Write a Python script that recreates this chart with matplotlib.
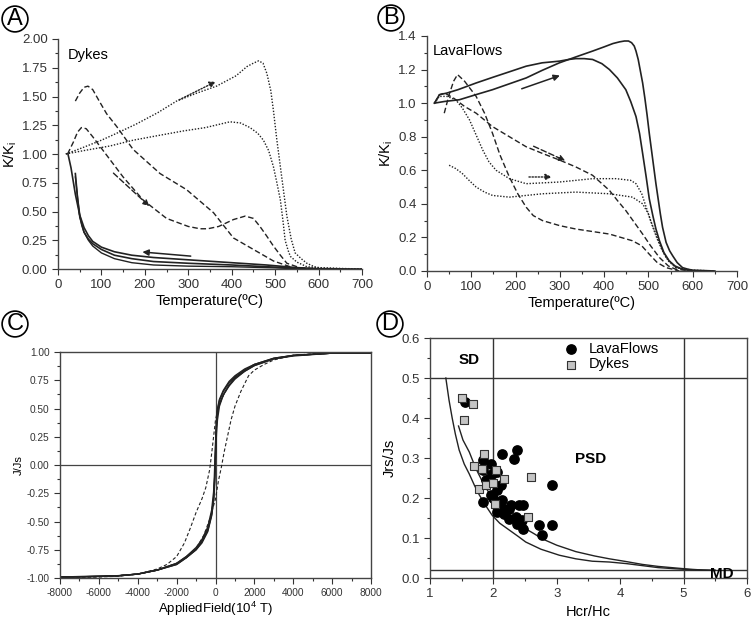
import numpy as np
import matplotlib
matplotlib.use("Agg")
import matplotlib.pyplot as plt
from matplotlib.ticker import MultipleLocator, FormatStrFormatter

plt.rcParams['font.family'] = ['Liberation Sans', 'DejaVu Sans']
plt.rcParams['mathtext.default'] = 'regular'
plt.rcParams['axes.unicode_minus'] = False

# ---------------- Panel A: Dykes, K/Ki vs temperature ----------------
a_dot1_T = [18, 60, 100, 135, 180, 230, 273, 320, 365, 410, 435, 450, 462, 472, 481, 490, 496, 504, 512, 520, 527, 537, 546, 560, 573, 590, 604, 650, 700]
a_dot1_y = [1.00, 1.06, 1.12, 1.18, 1.26, 1.36, 1.46, 1.53, 1.59, 1.68, 1.76, 1.79, 1.81, 1.79, 1.70, 1.55, 1.38, 1.12, 0.89, 0.66, 0.46, 0.26, 0.14, 0.09, 0.05, 0.02, 0.01, 0.005, 0.0]
a_dot2_T = [18, 60, 120, 173, 230, 288, 340, 396, 420, 442, 460, 473, 485, 496, 504, 512, 518, 523, 530, 535, 550, 573, 600, 650, 700]
a_dot2_y = [1.00, 1.03, 1.07, 1.12, 1.16, 1.20, 1.23, 1.28, 1.27, 1.23, 1.18, 1.12, 1.03, 0.89, 0.75, 0.60, 0.42, 0.25, 0.16, 0.11, 0.06, 0.02, 0.01, 0.003, 0.0]
a_dash1_T = [40, 50, 60, 69, 80, 95, 112, 135, 173, 235, 296, 358, 404, 450, 496, 542, 600]
a_dash1_y = [1.46, 1.53, 1.58, 1.59, 1.56, 1.46, 1.35, 1.24, 1.04, 0.83, 0.69, 0.49, 0.27, 0.17, 0.07, 0.01, 0.0]
a_dash2_T = [22, 35, 45, 54, 65, 80, 96, 120, 150, 196, 250, 300, 327, 345, 370, 404, 431, 450, 465, 480, 496, 512, 527, 558, 600]
a_dash2_y = [1.00, 1.10, 1.19, 1.23, 1.22, 1.15, 1.07, 0.95, 0.80, 0.60, 0.44, 0.37, 0.35, 0.35, 0.37, 0.43, 0.46, 0.44, 0.37, 0.29, 0.20, 0.12, 0.05, 0.01, 0.0]
a_sol1_T = [23, 30, 40, 50, 60, 70, 80, 100, 130, 170, 220, 300, 400, 480, 550, 600, 700]
a_sol1_y = [1.00, 0.88, 0.65, 0.47, 0.36, 0.29, 0.24, 0.19, 0.15, 0.12, 0.10, 0.08, 0.055, 0.035, 0.012, 0.003, 0.0]
a_sol2_T = [40, 45, 50, 55, 60, 70, 80, 100, 130, 170, 220, 300, 400, 480, 560]
a_sol2_y = [0.83, 0.62, 0.47, 0.38, 0.32, 0.26, 0.22, 0.17, 0.12, 0.09, 0.065, 0.05, 0.035, 0.02, 0.005]
a_sol3_T = [40, 50, 60, 70, 80, 100, 130, 170, 220, 300, 400, 500, 560]
a_sol3_y = [0.80, 0.45, 0.32, 0.25, 0.20, 0.14, 0.09, 0.055, 0.035, 0.025, 0.02, 0.01, 0.0]

# ---------------- Panel B: LavaFlows ----------------
b_sol1_T = [17, 40, 73, 110, 148, 186, 224, 260, 299, 336, 374, 400, 420, 435, 446, 455, 462, 468, 472, 477, 482, 487, 492, 497, 502, 507, 512, 517, 522, 527, 532, 540, 548, 555, 565, 577, 590, 600, 650]
b_sol1_y = [1.00, 1.01, 1.02, 1.05, 1.08, 1.115, 1.15, 1.195, 1.24, 1.275, 1.31, 1.335, 1.355, 1.365, 1.37, 1.37, 1.36, 1.34, 1.31, 1.26, 1.19, 1.12, 1.03, 0.93, 0.82, 0.72, 0.62, 0.52, 0.43, 0.34, 0.26, 0.17, 0.12, 0.09, 0.05, 0.02, 0.01, 0.005, 0.0]
b_sol2_T = [17, 28, 45, 70, 111, 150, 190, 224, 260, 299, 320, 336, 355, 374, 395, 412, 430, 449, 460, 472, 480, 487, 495, 502, 510, 517, 525, 535, 547, 560, 577, 600]
b_sol2_y = [1.00, 1.05, 1.06, 1.08, 1.12, 1.155, 1.19, 1.22, 1.24, 1.25, 1.26, 1.265, 1.265, 1.26, 1.235, 1.20, 1.15, 1.08, 1.01, 0.92, 0.82, 0.70, 0.56, 0.43, 0.33, 0.25, 0.18, 0.11, 0.06, 0.03, 0.01, 0.0]
b_dash1_T = [39, 50, 60, 69, 85, 111, 130, 148, 165, 186, 205, 224, 240, 261, 300, 336, 412, 464, 485, 502, 520, 540, 570]
b_dash1_y = [0.94, 1.05, 1.13, 1.17, 1.13, 1.04, 0.94, 0.82, 0.69, 0.56, 0.46, 0.38, 0.33, 0.30, 0.27, 0.25, 0.22, 0.18, 0.15, 0.10, 0.05, 0.02, 0.0]
b_dash2_T = [17, 28, 40, 60, 85, 111, 148, 186, 224, 261, 300, 336, 374, 412, 430, 449, 468, 487, 505, 525, 545, 562, 600]
b_dash2_y = [1.00, 1.05, 1.06, 1.03, 0.98, 0.94, 0.86, 0.80, 0.74, 0.70, 0.66, 0.62, 0.57, 0.48, 0.42, 0.36, 0.29, 0.22, 0.15, 0.08, 0.03, 0.01, 0.0]
b_dot1_T = [17, 28, 45, 65, 80, 96, 111, 126, 140, 156, 186, 224, 299, 374, 427, 460, 472, 485, 495, 505, 517, 530, 540, 562, 600, 650]
b_dot1_y = [1.00, 1.04, 1.04, 1.02, 0.97, 0.90, 0.81, 0.72, 0.65, 0.60, 0.55, 0.52, 0.53, 0.55, 0.55, 0.54, 0.52, 0.46, 0.38, 0.30, 0.22, 0.13, 0.08, 0.02, 0.005, 0.0]
b_dot2_T = [50, 65, 80, 95, 111, 130, 148, 186, 261, 336, 412, 464, 487, 500, 510, 520, 532, 545, 562, 600]
b_dot2_y = [0.63, 0.61, 0.58, 0.54, 0.50, 0.47, 0.45, 0.44, 0.46, 0.47, 0.46, 0.44, 0.40, 0.34, 0.26, 0.19, 0.12, 0.06, 0.02, 0.0]

# ---------------- Panel C: hysteresis loops ----------------
c_sol1_down_H = [8000, 6000, 4000, 3000, 2000, 1500, 1000, 700, 400, 200, 100, 50, 20, 0, -20, -50, -100, -200, -400, -700, -1000, -1500, -2000, -3000, -4000, -5000, -6000, -7000, -8000]
c_sol1_down_J = [0.995, 0.99, 0.97, 0.945, 0.89, 0.85, 0.79, 0.74, 0.66, 0.58, 0.50, 0.40, 0.25, 0.12, 0.0, -0.15, -0.30, -0.44, -0.58, -0.68, -0.75, -0.82, -0.88, -0.93, -0.965, -0.98, -0.985, -0.99, -0.995]
c_sol1_up_H = [-8000, -7000, -6000, -5000, -4000, -3000, -2000, -1500, -1000, -700, -400, -200, -100, -50, -20, 0, 20, 50, 100, 200, 400, 700, 1000, 1500, 2000, 3000, 4000, 6000, 8000]
c_sol1_up_J = [-0.995, -0.99, -0.985, -0.98, -0.965, -0.93, -0.88, -0.82, -0.75, -0.69, -0.59, -0.45, -0.32, -0.18, -0.05, 0.10, 0.24, 0.38, 0.48, 0.57, 0.65, 0.73, 0.78, 0.84, 0.89, 0.945, 0.97, 0.99, 0.995]
c_sol2_down_H = [8000, 6000, 4000, 3000, 2000, 1500, 1000, 700, 400, 200, 100, 50, 0, -30, -60, -100, -200, -400, -700, -1000, -1500, -2000, -3000, -4000, -5000, -6000, -8000]
c_sol2_down_J = [0.99, 0.99, 0.965, 0.94, 0.88, 0.83, 0.76, 0.70, 0.62, 0.54, 0.46, 0.36, 0.20, 0.05, -0.10, -0.24, -0.40, -0.55, -0.66, -0.73, -0.81, -0.87, -0.93, -0.965, -0.98, -0.985, -0.99]
c_sol2_up_H = [-8000, -6000, -5000, -4000, -3000, -2000, -1500, -1000, -700, -400, -200, -100, -60, -30, 0, 50, 100, 200, 400, 700, 1000, 1500, 2000, 3000, 4000, 6000, 8000]
c_sol2_up_J = [-0.99, -0.985, -0.98, -0.965, -0.93, -0.87, -0.81, -0.74, -0.67, -0.57, -0.43, -0.30, -0.18, -0.06, 0.08, 0.28, 0.40, 0.52, 0.62, 0.71, 0.77, 0.83, 0.88, 0.94, 0.97, 0.99, 0.99]
c_dash_down_H = [8000, 6000, 4000, 3000, 2000, 1500, 1000, 600, 300, 100, 0, -100, -200, -300, -500, -700, -1000, -1300, -1600, -2000, -2500, -3000, -4000, -5000, -6000, -7000, -8000]
c_dash_down_J = [0.99, 0.99, 0.97, 0.94, 0.89, 0.84, 0.77, 0.68, 0.58, 0.48, 0.40, 0.25, 0.10, -0.04, -0.20, -0.30, -0.42, -0.56, -0.69, -0.81, -0.88, -0.92, -0.965, -0.985, -0.99, -0.99, -0.995]
c_dash_up_H = [-8000, -6000, -4000, -3000, -2500, -2000, -1500, -1000, -600, -300, 0, 150, 300, 450, 600, 800, 1000, 1300, 1700, 2000, 2500, 3000, 4000, 5000, 6000, 8000]
c_dash_up_J = [-0.995, -0.99, -0.965, -0.93, -0.90, -0.87, -0.82, -0.74, -0.62, -0.48, -0.30, -0.14, -0.02, 0.12, 0.24, 0.40, 0.52, 0.65, 0.79, 0.84, 0.89, 0.93, 0.97, 0.985, 0.99, 0.995]

# ---------------- Panel D: Day plot ----------------
lava_hcr = [1.56, 1.83, 1.83, 1.84, 1.96, 1.88, 1.93, 1.98, 2.06, 2.14, 2.33, 2.38, 1.96, 2.06, 2.12, 2.14, 2.06, 2.14, 2.17,
            2.25, 2.25, 2.27, 2.41, 2.46, 2.35, 2.43, 2.46, 2.72, 2.77, 2.92, 2.93, 2.00, 2.10, 2.20, 2.38, 2.45]
lava_jrs = [0.44, 0.19, 0.294, 0.27, 0.286, 0.244, 0.248, 0.26, 0.265, 0.31, 0.298, 0.319, 0.207, 0.219, 0.232, 0.194, 0.165, 0.173, 0.161,
            0.148, 0.173, 0.182, 0.182, 0.182, 0.152, 0.14, 0.123, 0.133, 0.107, 0.233, 0.133, 0.20, 0.185, 0.17, 0.135, 0.145]
dyke_hcr = [1.51, 1.68, 1.54, 1.85, 1.69, 1.82, 1.77, 1.89, 1.99, 2.04, 2.17, 2.03, 2.54, 2.59]
dyke_jrs = [0.45, 0.434, 0.396, 0.309, 0.28, 0.273, 0.222, 0.232, 0.237, 0.271, 0.248, 0.184, 0.153, 0.2525]
sd_md1_x = [1.25, 1.30, 1.35, 1.40, 1.46, 1.54, 1.62, 1.70, 1.77, 1.87, 1.98, 2.10, 2.25, 2.40, 2.51, 2.75, 3.04, 3.30, 3.56, 3.83, 4.10, 4.35, 4.60, 4.88, 5.10, 5.30, 5.50]
sd_md1_y = [0.50, 0.445, 0.40, 0.36, 0.32, 0.285, 0.26, 0.232, 0.21, 0.183, 0.157, 0.137, 0.12, 0.103, 0.09, 0.072, 0.057, 0.048, 0.042, 0.040, 0.036, 0.031, 0.026, 0.023, 0.021, 0.020, 0.019]
sd_md2_x = [1.45, 1.52, 1.62, 1.72, 1.83, 1.93, 2.04, 2.15, 2.25, 2.38, 2.51, 2.65, 2.77, 3.00, 3.30, 3.60, 3.83, 4.10, 4.35, 4.60, 4.88, 5.10, 5.30, 5.50]
sd_md2_y = [0.38, 0.345, 0.315, 0.275, 0.24, 0.213, 0.19, 0.172, 0.157, 0.14, 0.123, 0.11, 0.098, 0.082, 0.066, 0.055, 0.048, 0.041, 0.034, 0.029, 0.025, 0.022, 0.020, 0.019]

fig = plt.figure(figsize=(7.52, 6.18), dpi=100)

dotted = (0, (1, 1.2))
dashed = (0, (4, 2))
ink = '#222222'


def style_axis(ax, size, box):
    ax.tick_params(which='both', direction='out', labelsize=size, width=0.8, colors='#333333')
    ax.tick_params(which='major', length=4)
    ax.tick_params(which='minor', length=2)
    for s in ax.spines.values():
        s.set_color('#444444')
        s.set_linewidth(1.0)
    if not box:
        ax.spines['top'].set_visible(False)
        ax.spines['right'].set_visible(False)


def panel_label(x, y, letter):
    fig.text(x, y, letter, fontsize=17, ha='center', va='center',
             bbox=dict(boxstyle='circle,pad=0.08', fc='white', ec='black', lw=1.2))


# Panel A
axA = fig.add_axes([0.0771, 0.5647, 0.4043, 0.3722])
axA.plot(a_dot1_T, a_dot1_y, ls=dotted, color=ink, lw=1.0)
axA.plot(a_dot2_T, a_dot2_y, ls=dotted, color=ink, lw=1.0)
axA.plot(a_dash1_T, a_dash1_y, ls=dashed, color=ink, lw=1.0)
axA.plot(a_dash2_T, a_dash2_y, ls=dashed, color=ink, lw=1.0)
axA.plot(a_sol1_T, a_sol1_y, color=ink, lw=1.2)
axA.plot(a_sol2_T, a_sol2_y, color=ink, lw=1.2)
axA.plot(a_sol3_T, a_sol3_y, color=ink, lw=1.0)
axA.annotate('', xy=(369, 1.64), xytext=(273, 1.46),
             arrowprops=dict(arrowstyle='-|>', ls=dotted, color=ink, lw=1.0, mutation_scale=9))
axA.annotate('', xy=(215, 0.53), xytext=(123, 0.85),
             arrowprops=dict(arrowstyle='-|>', ls=dashed, color=ink, lw=1.0, mutation_scale=9))
axA.annotate('', xy=(188, 0.15), xytext=(312, 0.11),
             arrowprops=dict(arrowstyle='-|>', color=ink, lw=1.1, mutation_scale=9))
axA.text(22, 1.86, 'Dykes', fontsize=10.5, va='center')
axA.set_xlim(0, 700)
axA.set_ylim(0, 2.0)
axA.xaxis.set_major_locator(MultipleLocator(100))
axA.xaxis.set_minor_locator(MultipleLocator(50))
axA.yaxis.set_major_locator(MultipleLocator(0.25))
axA.yaxis.set_minor_locator(MultipleLocator(0.125))
axA.yaxis.set_major_formatter(FormatStrFormatter('%.2f'))
axA.set_xlabel('Temperature(ºC)', fontsize=10.5, labelpad=2)
axA.set_ylabel('K/K$_\\mathregular{i}$', fontsize=10.5, labelpad=2)
style_axis(axA, 9.5, False)

# Panel B
axB = fig.add_axes([0.5678, 0.5615, 0.4122, 0.3803])
axB.plot(b_sol1_T, b_sol1_y, color=ink, lw=1.2)
axB.plot(b_sol2_T, b_sol2_y, color=ink, lw=1.2)
axB.plot(b_dash1_T, b_dash1_y, ls=dashed, color=ink, lw=1.0)
axB.plot(b_dash2_T, b_dash2_y, ls=dashed, color=ink, lw=1.0)
axB.plot(b_dot1_T, b_dot1_y, ls=dotted, color=ink, lw=1.0)
axB.plot(b_dot2_T, b_dot2_y, ls=dotted, color=ink, lw=1.0)
axB.annotate('', xy=(306, 1.17), xytext=(208, 1.08),
             arrowprops=dict(arrowstyle='-|>', color=ink, lw=1.1, mutation_scale=9))
axB.annotate('', xy=(318, 0.65), xytext=(235, 0.75),
             arrowprops=dict(arrowstyle='-|>', ls=dashed, color=ink, lw=1.0, mutation_scale=9))
axB.annotate('', xy=(288, 0.56), xytext=(224, 0.56),
             arrowprops=dict(arrowstyle='-|>', ls=dotted, color=ink, lw=1.0, mutation_scale=9))
axB.text(13, 1.31, 'LavaFlows', fontsize=10.5, va='center')
axB.set_xlim(0, 700)
axB.set_ylim(0, 1.4)
axB.xaxis.set_major_locator(MultipleLocator(100))
axB.xaxis.set_minor_locator(MultipleLocator(50))
axB.yaxis.set_major_locator(MultipleLocator(0.2))
axB.yaxis.set_minor_locator(MultipleLocator(0.1))
axB.yaxis.set_major_formatter(FormatStrFormatter('%.1f'))
axB.set_xlabel('Temperature(ºC)', fontsize=10.5, labelpad=2)
axB.set_ylabel('K/K$_\\mathregular{i}$', fontsize=10.5, labelpad=2)
style_axis(axB, 9.5, False)

# Panel C
axC = fig.add_axes([0.0798, 0.0647, 0.4136, 0.3657])
axC.axhline(0, color='#444444', lw=0.9)
axC.axvline(0, color='#444444', lw=0.9)
axC.plot(c_sol1_down_H, c_sol1_down_J, color=ink, lw=1.0)
axC.plot(c_sol1_up_H, c_sol1_up_J, color=ink, lw=1.0)
axC.plot(c_sol2_down_H, c_sol2_down_J, color=ink, lw=1.0)
axC.plot(c_sol2_up_H, c_sol2_up_J, color=ink, lw=1.0)
axC.plot(c_dash_down_H, c_dash_down_J, ls=(0, (3, 2)), color=ink, lw=0.8)
axC.plot(c_dash_up_H, c_dash_up_J, ls=(0, (3, 2)), color=ink, lw=0.8)
axC.set_xlim(-8000, 8000)
axC.set_ylim(-1.0, 1.0)
axC.xaxis.set_major_locator(MultipleLocator(2000))
axC.xaxis.set_minor_locator(MultipleLocator(1000))
axC.yaxis.set_major_locator(MultipleLocator(0.25))
axC.yaxis.set_minor_locator(MultipleLocator(0.125))
axC.yaxis.set_major_formatter(FormatStrFormatter('%.2f'))
axC.set_xlabel('AppliedField(10$^{4}$ T)', fontsize=9.5, labelpad=1)
axC.set_ylabel('J/Js', fontsize=8, labelpad=2)
style_axis(axC, 7.3, True)

# Panel D
axD = fig.add_axes([0.5718, 0.0647, 0.4215, 0.3883])
axD.axhline(0.5, color='#333333', lw=1.0)
axD.axhline(0.02, color='#333333', lw=1.0)
axD.axvline(2, color='#333333', lw=1.0)
axD.axvline(5, color='#333333', lw=1.0)
axD.plot(sd_md1_x, sd_md1_y, color=ink, lw=1.0)
axD.plot(sd_md2_x, sd_md2_y, color=ink, lw=1.0)
axD.scatter(lava_hcr, lava_jrs, s=45, marker='o', color='black', zorder=3, label='LavaFlows')
axD.scatter(dyke_hcr, dyke_jrs, s=38, marker='s', facecolor='#c4c4c4', edgecolor='#333333', lw=0.8, zorder=4, label='Dykes')
axD.text(1.62, 0.545, 'SD', fontsize=11, fontweight='bold', ha='center', va='center')
axD.text(3.53, 0.298, 'PSD', fontsize=11, fontweight='bold', ha='center', va='center')
axD.text(5.6, 0.01, 'MD', fontsize=11, fontweight='bold', ha='center', va='center')
axD.legend(loc='upper left', bbox_to_anchor=(0.39, 1.02), frameon=False, fontsize=10.5,
           handletextpad=0.6, labelspacing=0.1, borderaxespad=0.2, handlelength=1.2)
axD.set_xlim(1, 6)
axD.set_ylim(0, 0.6)
axD.xaxis.set_major_locator(MultipleLocator(1))
axD.xaxis.set_minor_locator(MultipleLocator(0.5))
axD.yaxis.set_major_locator(MultipleLocator(0.1))
axD.yaxis.set_minor_locator(MultipleLocator(0.05))
axD.yaxis.set_major_formatter(FormatStrFormatter('%.1f'))
axD.set_xlabel('Hcr/Hc', fontsize=10.5, labelpad=3)
axD.set_ylabel('Jrs/Js', fontsize=10.5, labelpad=3)
style_axis(axD, 9.5, True)

panel_label(15 / 752, 1 - 19 / 618, 'A')
panel_label(391 / 752, 1 - 18 / 618, 'B')
panel_label(15 / 752, 1 - 324 / 618, 'C')
panel_label(390 / 752, 1 - 324 / 618, 'D')

fig.savefig('out.png', dpi=100)
